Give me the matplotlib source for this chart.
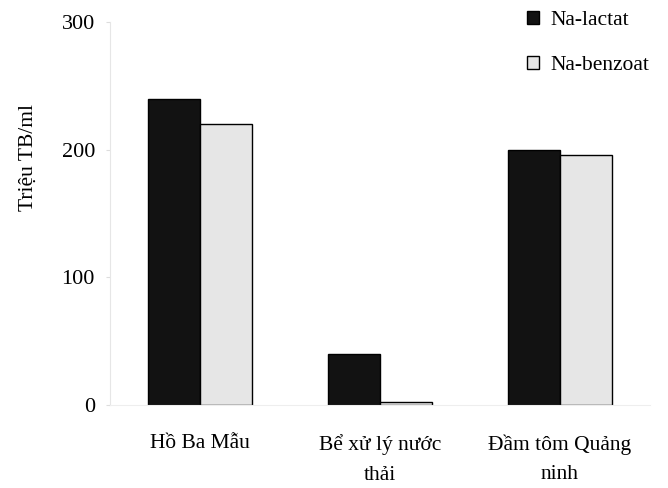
import matplotlib
matplotlib.use("Agg")
import matplotlib.pyplot as plt
import numpy as np

categories = ["Hồ Ba Mẫu", "Bể xử lý nước\nthải", "Đầm tôm Quảng\nninh"]
series_names = ["Na-lactat", "Na-benzoat"]
lactat = [240, 40, 200]
benzoat = [220, 2, 196]
yticks = [0, 100, 200, 300]

plt.rcParams["font.family"] = ["Liberation Serif", "DejaVu Serif"]

fig = plt.figure(figsize=(6.68, 4.88), dpi=100)
ax = fig.add_axes([0.165, 0.17, 0.808, 0.785])

x = np.arange(len(categories))
w = 0.29
ax.bar(x - w / 2, lactat, width=w, color="#121212", edgecolor="#000000",
       linewidth=1.0, label=series_names[0])
ax.bar(x + w / 2, benzoat, width=w, color="#e6e6e6", edgecolor="#000000",
       linewidth=1.0, label=series_names[1])

ax.set_xlim(-0.5, 2.5)
ax.set_ylim(0, 300)
ax.set_yticks(yticks)
ax.set_yticklabels([str(t) for t in yticks], fontsize=16)
ax.set_xticks(x)
ax.set_xticklabels(categories, fontsize=15.5, linespacing=1.75)
ax.tick_params(axis="x", length=0, pad=21)
ax.tick_params(axis="y", length=3, color="#dddddd", pad=8)

for s in ["top", "right"]:
    ax.spines[s].set_visible(False)
ax.spines["left"].set_color("#e6e6e6")
ax.spines["bottom"].set_color("#eeeeee")

ax.set_ylabel("Triệu TB/ml", fontsize=15.5)
ax.yaxis.set_label_coords(-0.135, 0.645)

ax.legend(loc="upper right", bbox_to_anchor=(1.035, 1.08), frameon=False,
          fontsize=15.5, handlelength=0.55, handleheight=0.55,
          handletextpad=0.55, labelspacing=1.2)

fig.savefig("out.png", dpi=100)
